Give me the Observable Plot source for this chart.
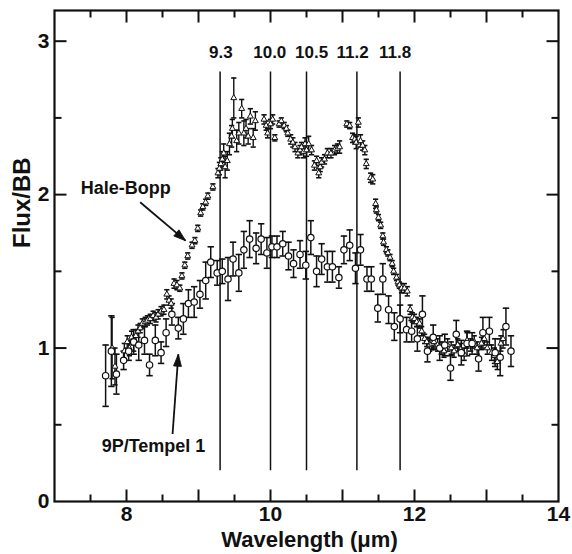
<!DOCTYPE html>
<html>
<head>
<meta charset="utf-8">
<script src="https://cdn.jsdelivr.net/npm/d3@7"></script>
<script src="https://cdn.jsdelivr.net/npm/@observablehq/plot@0.6"></script>
<style>
  html, body { margin: 0; padding: 0; background: #fff; }
  #chart svg { display: block; }
</style>
</head>
<body>
<div id="chart"></div>
<script>
// ---------------- data ----------------
// 9P/Tempel 1 (circles)
const tempelX = [7.71,7.79,7.86,7.96,8.03,8.10,8.17,8.25,8.32,8.40,8.48,8.55,8.63,8.72,8.79,8.86,8.94,9.02,9.10,9.17,9.26,9.33,9.41,9.48,9.56,9.63,9.71,9.80,9.87,9.95,10.02,10.09,10.17,10.25,10.32,10.41,10.49,10.56,10.64,10.71,10.79,10.86,10.95,11.02,11.10,11.18,11.25,11.34,11.40,11.49,11.56,11.64,11.72,11.80,11.89,11.96,12.04,12.11,12.18,12.26,12.35,12.42,12.50,12.58,12.65,12.73,12.80,12.89,12.95,13.04,13.12,13.19,13.27,13.34];
const tempelY = [0.82,0.98,0.83,0.92,0.98,1.04,1.02,1.05,0.89,1.05,0.97,1.10,1.22,1.13,1.19,1.29,1.30,1.35,1.44,1.56,1.49,1.50,1.45,1.58,1.49,1.64,1.71,1.65,1.71,1.62,1.66,1.66,1.68,1.60,1.55,1.61,1.54,1.72,1.50,1.58,1.53,1.53,1.46,1.64,1.67,1.52,1.64,1.45,1.45,1.26,1.45,1.25,1.14,1.19,1.12,1.11,1.06,1.22,0.98,1.07,1.00,1.02,0.87,1.09,0.97,1.03,1.03,0.93,1.10,1.11,0.97,0.94,1.14,0.98];
const tempelErr = [0.20,0.23,0.13,0.06,0.06,0.08,0.10,0.09,0.07,0.10,0.07,0.09,0.07,0.07,0.10,0.09,0.10,0.09,0.12,0.10,0.08,0.08,0.14,0.11,0.12,0.12,0.12,0.10,0.10,0.10,0.07,0.07,0.08,0.09,0.09,0.09,0.09,0.11,0.10,0.10,0.10,0.10,0.07,0.09,0.10,0.10,0.10,0.08,0.08,0.09,0.10,0.09,0.09,0.09,0.08,0.07,0.08,0.12,0.07,0.08,0.08,0.07,0.08,0.09,0.08,0.08,0.07,0.08,0.10,0.09,0.09,0.12,0.12,0.10];

// Hale-Bopp (triangles)
const haleX = [7.80,7.84,7.97,8.01,8.04,8.07,8.10,8.13,8.16,8.19,8.22,8.26,8.29,8.33,8.37,8.41,8.44,8.48,8.52,8.56,8.59,8.62,8.66,8.70,8.74,8.77,8.81,8.85,8.91,8.95,8.99,9.03,9.06,9.10,9.13,9.20,9.27,9.29,9.31,9.33,9.35,9.37,9.40,9.43,9.46,9.47,9.49,9.53,9.56,9.60,9.63,9.66,9.69,9.72,9.76,9.79,9.91,9.94,9.96,10.00,10.03,10.06,10.12,10.15,10.19,10.22,10.24,10.28,10.31,10.34,10.38,10.41,10.43,10.46,10.48,10.50,10.53,10.57,10.61,10.64,10.67,10.69,10.71,10.75,10.79,10.84,10.89,10.93,10.96,11.06,11.10,11.14,11.17,11.19,11.22,11.25,11.28,11.31,11.33,11.39,11.42,11.46,11.47,11.50,11.53,11.56,11.57,11.61,11.63,11.66,11.69,11.71,11.75,11.77,11.79,11.82,11.86,11.90,11.94,11.97,12.00,12.03,12.07,12.10,12.14,12.17,12.21,12.24,12.27,12.32,12.37,12.41,12.46,12.51,12.55,12.60,12.64,12.69,12.73,12.78,12.83,12.87,12.93,12.97,13.01,13.07,13.11,13.15,13.20,13.23];
const haleY = [1.00,0.88,0.98,1.04,1.00,1.07,1.03,1.08,1.11,1.13,1.16,1.17,1.18,1.19,1.21,1.20,1.22,1.24,1.25,1.35,1.31,1.29,1.42,1.41,1.39,1.47,1.54,1.60,1.67,1.70,1.78,1.88,1.92,1.95,1.99,2.05,2.14,2.17,2.20,2.23,2.27,2.18,2.22,2.33,2.38,2.43,2.63,2.35,2.40,2.56,2.40,2.43,2.38,2.51,2.37,2.48,2.49,2.45,2.40,2.46,2.49,2.37,2.46,2.48,2.45,2.43,2.40,2.36,2.34,2.31,2.27,2.29,2.31,2.28,2.33,2.29,2.33,2.29,2.19,2.22,2.14,2.18,2.21,2.23,2.27,2.27,2.29,2.30,2.31,2.46,2.45,2.37,2.36,2.34,2.47,2.35,2.32,2.29,2.20,2.11,2.10,1.94,1.90,1.85,1.80,1.73,1.69,1.64,1.62,1.59,1.55,1.50,1.46,1.43,1.41,1.39,1.39,1.37,1.25,1.20,1.19,1.17,1.16,1.11,1.06,1.04,1.02,1.03,1.04,1.02,1.00,0.98,1.02,1.00,0.98,1.02,0.99,0.96,1.05,1.02,1.04,1.00,1.03,1.06,1.00,0.97,0.95,0.91,1.03,1.06];
const haleErr = [0.20,0.12,0.05,0.04,0.05,0.04,0.05,0.04,0.04,0.03,0.03,0.03,0.03,0.03,0.03,0.03,0.03,0.03,0.03,0.03,0.03,0.03,0.03,0.03,0.02,0.02,0.02,0.02,0.02,0.02,0.02,0.02,0.02,0.02,0.02,0.02,0.03,0.04,0.04,0.05,0.06,0.07,0.06,0.07,0.07,0.06,0.13,0.07,0.07,0.06,0.08,0.06,0.05,0.05,0.06,0.06,0.03,0.03,0.03,0.03,0.03,0.02,0.02,0.02,0.02,0.02,0.02,0.03,0.03,0.03,0.03,0.03,0.03,0.04,0.04,0.04,0.05,0.03,0.03,0.03,0.03,0.03,0.03,0.03,0.03,0.03,0.03,0.03,0.04,0.02,0.02,0.03,0.03,0.04,0.03,0.04,0.03,0.03,0.03,0.03,0.03,0.03,0.02,0.02,0.02,0.02,0.02,0.02,0.02,0.02,0.02,0.02,0.02,0.02,0.02,0.03,0.03,0.03,0.03,0.03,0.03,0.03,0.03,0.03,0.03,0.03,0.04,0.04,0.04,0.04,0.04,0.04,0.04,0.04,0.04,0.04,0.04,0.04,0.05,0.04,0.04,0.04,0.04,0.04,0.04,0.05,0.05,0.05,0.05,0.06,0.07];

// feature wavelengths (vertical lines) and their labels
const featureLines = [9.3, 10.0, 10.5, 11.2, 11.8];
const featureLabels = ["9.3", "10.0", "10.5", "11.2", "11.8"];
const featureLabelX = [9.31, 9.99, 10.57, 11.14, 11.73];
const featureBottom = 0.2, featureTop = 2.8, featureLabelY = 2.89;

// axes
const xDomain = [7, 14];
const yDomain = [0, 3.2];
const xTickLabels = [8, 10, 12, 14];
const yTickLabels = [0, 1, 2, 3];
const xMajorTicks = [8, 9, 10, 11, 12, 13];
const xMinorTicks = [7.5, 8.5, 9.5, 10.5, 11.5, 12.5, 13.5];
const yMajorTicks = [1, 2, 3];
const yMinorTicks = [0.5, 1.5, 2.5];

// annotations
const annotations = [
  {label: "Hale-Bopp", x: 7.99, y: 2.005, ax1: 8.19, ay1: 1.95, ax2: 8.82, ay2: 1.70},
  {label: "9P/Tempel 1", x: 8.375, y: 0.32, ax1: 8.64, ay1: 0.44, ax2: 8.72, ay2: 0.96}
];

// ---------------- build ----------------
const W = 572, H = 554, ML = 54, MR = 14, MT = 10, MB = 53;
const pxPerX = (W - ML - MR) / (xDomain[1] - xDomain[0]);
const pxPerY = (H - MT - MB) / (yDomain[1] - yDomain[0]);

const tempel = tempelX.map((x, i) => ({x, y: tempelY[i], e: tempelErr[i]}));
const hale = haleX.map((x, i) => ({x, y: haleY[i], e: haleErr[i]}));
const featureText = featureLabels.map((t, i) => ({t, x: featureLabelX[i]}));
// arrow head orientation (degrees clockwise from north) in screen space
const arrowAngle = a => {
  const dx = (a.ax2 - a.ax1) * pxPerX, dy = -(a.ay2 - a.ay1) * pxPerY;
  return Math.atan2(dx, -dy) * 180 / Math.PI;
};

const seg = (x1, y1, x2, y2) => ({draw(ctx) { ctx.moveTo(x1, y1); ctx.lineTo(x2, y2); }});
const headSym = {draw(ctx) { ctx.moveTo(0, 0); ctx.lineTo(-4, 12); ctx.lineTo(4, 12); ctx.closePath(); }};
const INK = "#111";
const FONT = "'Liberation Sans', Arial, Helvetica, sans-serif";

function errorMarks(data, capHalf, sw) {
  return [
    Plot.ruleX(data, {x: "x", y1: d => d.y - d.e, y2: d => d.y + d.e, stroke: INK, strokeWidth: sw}),
    Plot.dot(data, {x: "x", y: d => d.y - d.e, symbol: seg(-capHalf, 0, capHalf, 0), stroke: INK, strokeWidth: 1.6, fill: "none"}),
    Plot.dot(data, {x: "x", y: d => d.y + d.e, symbol: seg(-capHalf, 0, capHalf, 0), stroke: INK, strokeWidth: 1.6, fill: "none"})
  ];
}

function tickMarks(values, axis, len, sw) {
  const marks = [];
  if (axis === "x") {
    marks.push(Plot.dot(values, {x: d => d, y: yDomain[0], symbol: seg(0, 0, 0, -len), stroke: INK, strokeWidth: sw, fill: "none"}));
    marks.push(Plot.dot(values, {x: d => d, y: yDomain[1], symbol: seg(0, 0, 0, len), stroke: INK, strokeWidth: sw, fill: "none"}));
  } else {
    marks.push(Plot.dot(values, {y: d => d, x: xDomain[0], symbol: seg(0, 0, len, 0), stroke: INK, strokeWidth: sw, fill: "none"}));
    marks.push(Plot.dot(values, {y: d => d, x: xDomain[1], symbol: seg(0, 0, -len, 0), stroke: INK, strokeWidth: sw, fill: "none"}));
  }
  return marks;
}

const chart = Plot.plot({
  width: W,
  height: H,
  marginLeft: ML,
  marginRight: MR,
  marginTop: MT,
  marginBottom: MB,
  style: {fontFamily: FONT, color: INK, background: "#fff"},
  x: {domain: xDomain},
  y: {domain: yDomain},
  marks: [
    // feature lines
    Plot.ruleX(featureLines, {x: d => d, y1: featureBottom, y2: featureTop, stroke: INK, strokeWidth: 1.5}),
    Plot.text(featureText, {x: "x", y: featureLabelY, text: "t", lineAnchor: "bottom", textAnchor: "middle", fontSize: 17, fontWeight: "bold", fill: INK}),
    // error bars
    ...errorMarks(hale, 2.6, 1.4),
    ...errorMarks(tempel, 3.2, 1.5),
    // points
    Plot.dot(hale, {x: "x", y: "y", symbol: "triangle", r: 2.2, fill: "white", stroke: INK, strokeWidth: 1}),
    Plot.dot(tempel, {x: "x", y: "y", symbol: "circle", r: 3.2, fill: "white", stroke: INK, strokeWidth: 1.2}),
    // annotations (shaft + filled head)
    Plot.link(annotations, {x1: "ax1", y1: "ay1", x2: "ax2", y2: "ay2", stroke: INK, strokeWidth: 1.8}),
    Plot.dot(annotations, {x: "ax2", y: "ay2", symbol: headSym, rotate: arrowAngle, fill: INK, stroke: INK, strokeWidth: 0.8}),
    Plot.text(annotations, {x: "x", y: "y", text: "label", lineAnchor: "bottom", textAnchor: "middle", fontSize: 18, fontWeight: "bold", fill: INK}),
    // ticks (inward, all four sides)
    ...tickMarks(xMajorTicks, "x", 12, 2),
    ...tickMarks(xMinorTicks, "x", 7, 2),
    ...tickMarks(yMajorTicks, "y", 12, 2),
    ...tickMarks(yMinorTicks, "y", 7, 2),
    // axes labels
    Plot.axisX({ticks: xTickLabels, tickSize: 0, tickPadding: 5, fontSize: 21, fontWeight: "bold", label: null, tickFormat: d => String(d)}),
    Plot.axisY({ticks: yTickLabels, tickSize: 0, tickPadding: 5, fontSize: 21, fontWeight: "bold", label: null, tickFormat: d => String(d)}),
    Plot.text(["Wavelength (\u03bcm)"], {frameAnchor: "bottom", dy: 45, dx: 3, lineAnchor: "bottom", text: d => d, fontSize: 22, fontWeight: "bold", fill: INK}),
    Plot.text(["Flux/BB"], {frameAnchor: "left", dx: -32, dy: -8, rotate: -90, text: d => d, fontSize: 24, fontWeight: "bold", fill: INK}),
    Plot.frame({stroke: INK, strokeWidth: 2.2})
  ]
});

document.getElementById("chart").appendChild(chart);
</script>
</body>
</html>
